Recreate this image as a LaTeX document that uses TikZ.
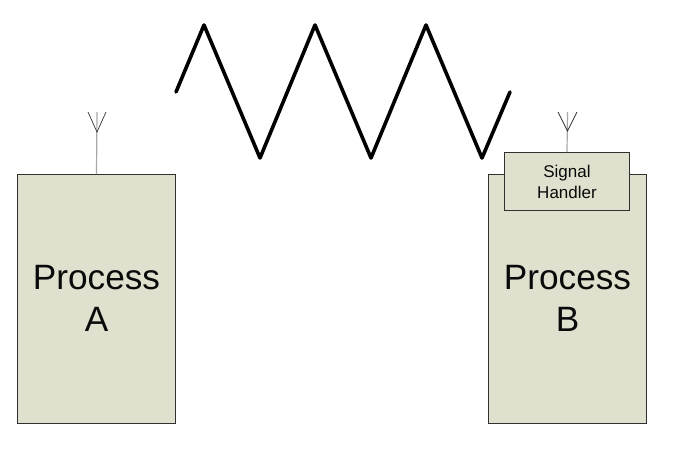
\documentclass[tikz,border=0pt]{standalone}
\usepackage{fontspec}
\setmainfont{Liberation Sans}
\definecolor{boxfill}{HTML}{DFE0CD}
\definecolor{boxline}{HTML}{303030}
\definecolor{stem}{HTML}{A8A8A8}
\definecolor{ink}{HTML}{0A0A0A}
\begin{document}
\begin{tikzpicture}[x=1pt,y=-1pt,
  procbox/.style={draw=boxline,fill=boxfill,line width=0.9pt,minimum width=158.5pt,minimum height=249pt,inner sep=0pt,align=center,font=\fontsize{35.2}{42}\selectfont,text=ink},
  handlerbox/.style={draw=boxline,fill=boxfill,line width=0.9pt,minimum width=125.5pt,minimum height=58pt,inner sep=0pt,align=center,font=\fontsize{17}{21}\selectfont,text=ink},
  stemline/.style={draw=stem,line width=1.2pt},
  prong/.style={draw=boxline,line width=0.7pt},
  signal/.style={draw=black,line width=3.6pt,line cap=round,line join=round}]
\useasboundingbox (0,0) rectangle (675,468);
\fill[white] (0,0) rectangle (675,468);
% Process A
\node[procbox] (A) at (96.5,299) {\raisebox{1pt}{Process}\\\raisebox{1pt}{A}};
\coordinate (atipA) at (97,132);
\coordinate (alA) at (88,112);
\coordinate (arA) at (106,112);
\coordinate (atopA) at (97,112);
\draw[stemline] (A.north) -- (atopA);
\draw[prong] (alA) -- (atipA) -- (arA);
% Process B
\node[procbox] (B) at (567.5,299) {\raisebox{1pt}{Process}\\\raisebox{1pt}{B}};
\node[handlerbox] (H) at (567,181.5) {Signal\\Handler};
\coordinate (atipB) at (567.5,131);
\coordinate (alB) at (558,112);
\coordinate (arB) at (577,112);
\coordinate (atopB) at (567.5,112);
\draw[stemline] (H.north) -- (atopB);
\draw[prong] (alB) -- (atipB) -- (arB);
% Signal zigzag
\coordinate (z0) at (176,92);
\coordinate (z1) at (204,25);
\coordinate (z2) at (260,158);
\coordinate (z3) at (315,25);
\coordinate (z4) at (371,158);
\coordinate (z5) at (426,25);
\coordinate (z6) at (482,158);
\coordinate (z7) at (510,92);
\draw[signal] (z0) -- (z1) -- (z2) -- (z3) -- (z4) -- (z5) -- (z6) -- (z7);
\end{tikzpicture}
\end{document}
